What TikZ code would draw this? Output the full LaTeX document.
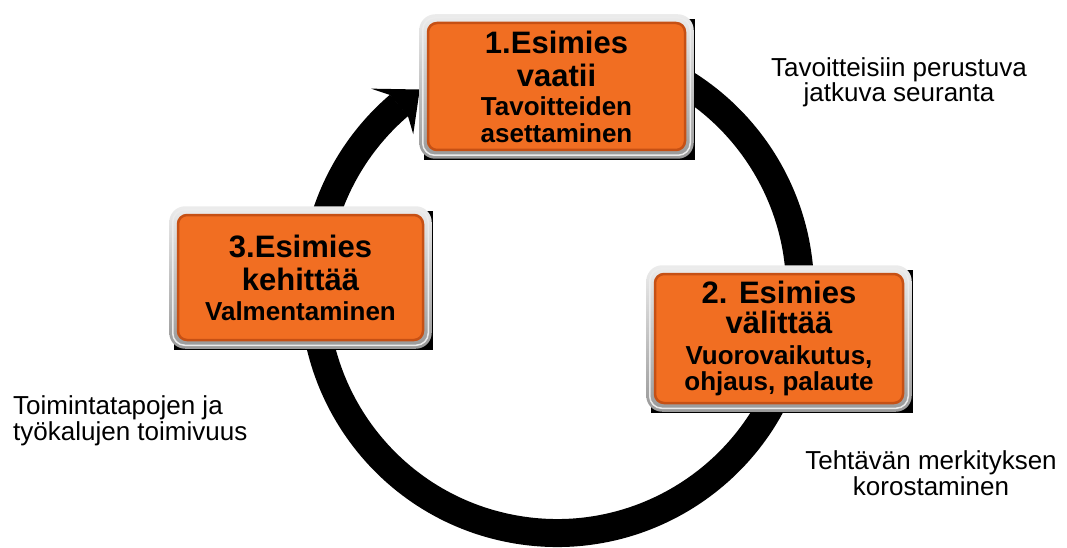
\documentclass[tikz,border=0pt]{standalone}
\usepackage{fontspec}
\setmainfont{Liberation Sans}
\usetikzlibrary{backgrounds,calc}
\definecolor{boxorange}{RGB}{241,110,34}
\definecolor{boxrim}{RGB}{198,80,20}
\newcommand\stagetitle[1]{{\fontsize{31}{33}\selectfont #1}}
\tikzset{
  stage/.style={rounded corners=9pt, fill=boxorange, draw=boxrim, line width=2.5pt,
    inner sep=0pt, align=center, font=\fontsize{26}{27}\selectfont\bfseries},
  caption/.style={inner sep=0pt, font=\fontsize{26}{25.5}\selectfont},
  ring/.style={line width=28pt, draw=black},
}
\begin{document}
\begin{tikzpicture}[x=1pt,y=-1pt]
  \useasboundingbox (0,0) rectangle (1067,548);
  \coordinate (hub) at (557,290);

  % stages
  \node[stage, minimum width=257pt, minimum height=127pt] (s1) at (556.5,86.5)
    {\stagetitle{1.Esimies}\\[6pt]\stagetitle{vaatii}\\[2pt]Tavoitteiden\\asettaminen};
  \node[stage, minimum width=248pt, minimum height=129pt] (s2) at (779,338.5)
    {\stagetitle{2. Esimies}\\[3pt]\stagetitle{välittää}\\[4pt]Vuorovaikutus,\\[-1pt]ohjaus, palaute};
  \node[stage, minimum width=245pt, minimum height=125pt] (s3) at (300.5,277.5)
    {\stagetitle{3.Esimies}\\[6pt]\stagetitle{kehittää}\\[3pt]Valmentaminen};

  \begin{scope}[on background layer]
    \fill[white] (0,0) rectangle (1067,548);
    % cycle ring with arrow head entering stage 1
    \draw[ring] ($(hub)+(-80:243)$) arc[start angle=-80, end angle=229.5, radius=243];
    \fill[black] ($(hub)+(229.4:257)$) -- ($(hub)+(227.3:274)$) -- ($(hub)+(235.6:243)$)
       -- ($(hub)+(227.3:212)$) -- ($(hub)+(229.4:229)$) -- cycle;
    % shadow plate and grey bevel frame behind each stage
    \foreach \s in {s1,s2,s3} {
      \fill[black] ($(\s.north west)+(-2.5,-2.5)$) rectangle ($(\s.south east)+(8.5,8.5)$);
      \shade[rounded corners=16pt, top color=gray!15, bottom color=gray!80]
        ($(\s.north west)+(-7.5,-7.5)$) rectangle ($(\s.south east)+(7.5,7.5)$);
      \draw[white!85!gray, line width=1.5pt, rounded corners=12pt]
        ($(\s.north west)+(-4,-4)$) rectangle ($(\s.south east)+(4,4)$);
    }
  \end{scope}

  % captions
  \node[caption, align=center] (c1) at (899,82.3)
    {Tavoitteisiin perustuva\\jatkuva seuranta};
  \node[caption, align=center] (c2) at (931,473)
    {Tehtävän merkityksen\\korostaminen};
  \node[caption, align=left, anchor=west] (c3) at (13,420.7)
    {Toimintatapojen ja\\työkalujen toimivuus};
\end{tikzpicture}
\end{document}
